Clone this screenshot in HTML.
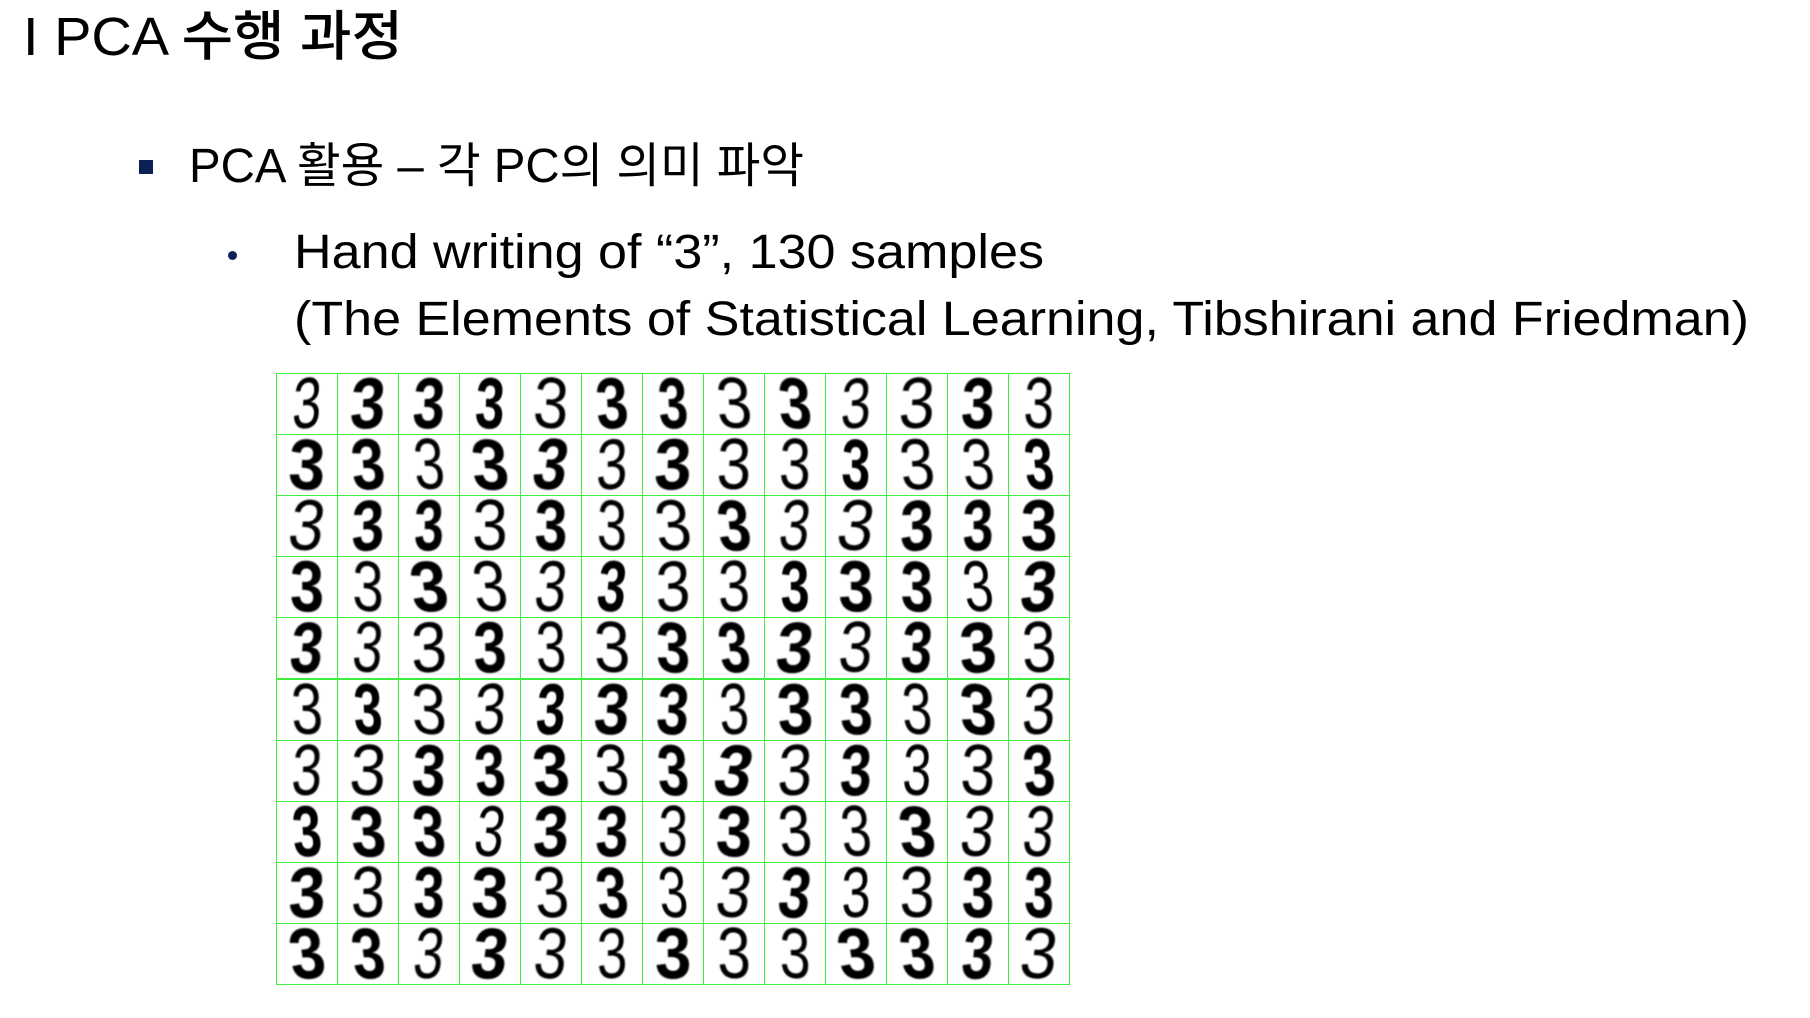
<!DOCTYPE html>
<html><head><meta charset="utf-8">
<style>
html,body{margin:0;padding:0;background:#fff;}
body{width:1810px;height:1018px;position:relative;overflow:hidden;font-family:"Liberation Sans","Noto Sans CJK KR",sans-serif;color:#000;}
.t{position:absolute;white-space:nowrap;transform-origin:0 0;line-height:1;}
#grid{position:absolute;left:276px;top:373px;width:793px;height:611px;}
.cell{position:absolute;box-sizing:border-box;border:1px solid #3ef03e;overflow:hidden;display:flex;align-items:center;justify-content:center;}
.dg{font-family:"Liberation Sans",sans-serif;font-size:72px;line-height:1;color:#000;filter:blur(0.9px);display:inline-block;}
</style></head>
<body>
<div class="t" data-w="380" style="left:23px;top:10px;font-size:54px;font-weight:500;">I PCA 수행 과정</div>
<div style="position:absolute;left:139px;top:160px;width:14px;height:14px;background:#0d2156;"></div>
<div class="t" data-w="615" style="left:189px;top:143px;font-size:48px;">PCA 활용 – 각 PC의 의미 파악</div>
<div style="position:absolute;left:228px;top:251px;width:9px;height:9px;border-radius:50%;background:#0d2156;"></div>
<div class="t" data-w="750" style="left:294px;top:229px;font-size:48px;">Hand writing of “3”, 130 samples</div>
<div class="t" data-w="1455" style="left:294px;top:296px;font-size:48px;">(The Elements of Statistical Learning, Tibshirani and Friedman)</div>
<div id="grid"></div>
<script>
function fit(){
document.querySelectorAll('.t').forEach(function(el){
  el.style.transform='none';
  var w=+el.getAttribute('data-w');var r=el.getBoundingClientRect().width;
  el.style.transform='scaleX('+(w/r)+')';
});}
fit();
if(document.fonts&&document.fonts.ready){document.fonts.ready.then(fit);}
var cols=13, rows=10;
var weights=[400,700,400,700,700,400,400,700,700,700,400,400,700];
var grid=document.getElementById('grid');
var cw=793/cols, ch=611/rows;
for(var r=0;r<rows;r++){for(var c=0;c<cols;c++){
  var i=r*cols+c;
  var cell=document.createElement('div');
  
  
  cell.className='cell';
  cell.style.left=(c*cw)+'px';cell.style.top=(r*ch)+'px';
  cell.style.width=(cw+1)+'px';cell.style.height=(ch+1)+'px';
  var s=document.createElement('span');
  
  
  s.className='dg';
  s.textContent='3';
  var w=weights[(i*7+r)%13];
  s.style.fontWeight=w;
  var sx=0.72+((i*37)%22)/100;
  var sk=((i*53)%17)-8;
  var rot=((i*29)%9)-4;
  s.style.transform='scaleX('+sx+') skewX('+sk+'deg) rotate('+rot+'deg)';
  cell.appendChild(s);grid.appendChild(cell);
}}
</script>
</body></html>
